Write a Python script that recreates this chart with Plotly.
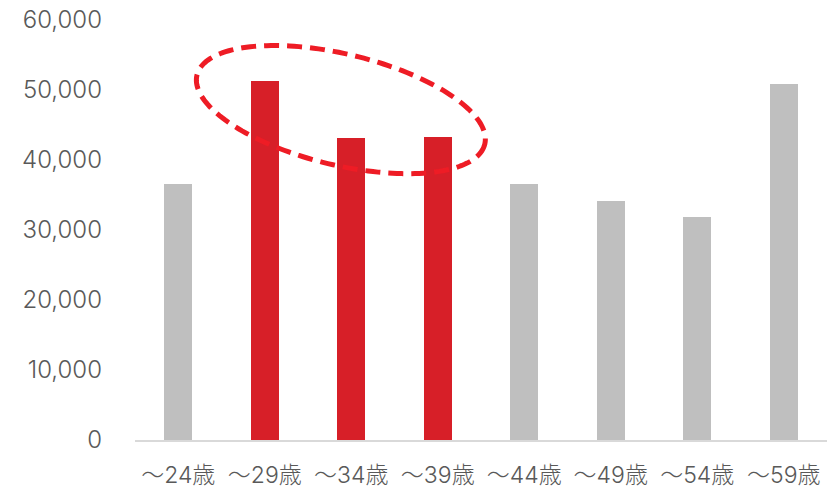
import numpy as np
import plotly.graph_objects as go

categories = ["～24歳", "～29歳", "～34歳", "～39歳", "～44歳", "～49歳", "～54歳", "～59歳"]
values = [36600, 51250, 43150, 43350, 36600, 34200, 31900, 50900]
highlight = [False, True, True, True, False, False, False, False]
y_ticks = [0, 10000, 20000, 30000, 40000, 50000, 60000]

GRAY = "#bfbfbf"
RED = "#d71f28"
RING = "#ee1c25"
TEXT = "#595959"
FONT = "Inter, Noto Sans CJK JP"

W, H = 834, 489
ML, MR, MT, MB = 135, 7, 20, 49
plot_w = W - ML - MR
plot_h = H - MT - MB
x_range = [-0.5, len(categories) - 0.5]
y_range = [0, 60000]

colors = [RED if h else GRAY for h in highlight]
x_idx = list(range(len(categories)))

fig = go.Figure(go.Bar(
    x=x_idx, y=values, marker=dict(color=colors, line=dict(width=0)),
    width=0.324, hoverinfo="skip",
))

# dashed ellipse highlighting the 25-39 group (pixel-defined, converted to data coords)
px_per_x = plot_w / (x_range[1] - x_range[0])
px_per_y = plot_h / (y_range[1] - y_range[0])
cx, cy = 1.88, 47200          # centre in data units
a, b, th = 148, 55.5, np.deg2rad(13.5)  # semi-axes in px, tilt
t = np.linspace(0, 2 * np.pi, 181)
dx = a * np.cos(t) * np.cos(th) - b * np.sin(t) * np.sin(th)
dy = a * np.cos(t) * np.sin(th) + b * np.sin(t) * np.cos(th)  # screen-down positive
ex = cx + dx / px_per_x
ey = cy - dy / px_per_y
path = "M " + " L ".join(f"{x:.4f},{y:.1f}" for x, y in zip(ex, ey)) + " Z"
fig.add_shape(type="path", path=path, xref="x", yref="y",
              line=dict(color=RING, width=5, dash="15px,8px"), layer="above")

fig.update_layout(
    width=W, height=H,
    margin=dict(l=ML, r=MR, t=MT, b=MB, pad=0, autoexpand=False),
    plot_bgcolor="white", paper_bgcolor="white",
    showlegend=False,
    font=dict(family=FONT, color=TEXT),
    bargap=0,
)
fig.update_xaxes(
    range=x_range, tickmode="array", tickvals=x_idx, ticktext=categories,
    showgrid=False, zeroline=False, showline=True, linecolor="#d9d9d9", linewidth=2,
    ticks="", tickfont=dict(size=23, family=FONT, color=TEXT, weight=300),
    ticklabelstandoff=13, automargin=False, fixedrange=True,
)
fig.update_yaxes(
    range=y_range, tickmode="array", tickvals=y_ticks,
    ticktext=[f"{v:,}" for v in y_ticks],
    showgrid=False, zeroline=False, showline=False, ticks="",
    tickfont=dict(size=24, family=FONT, color=TEXT, weight=300),
    ticklabelstandoff=32, ticklabeloverflow="allow", automargin=False, fixedrange=True,
)

fig.write_html("out.html")
